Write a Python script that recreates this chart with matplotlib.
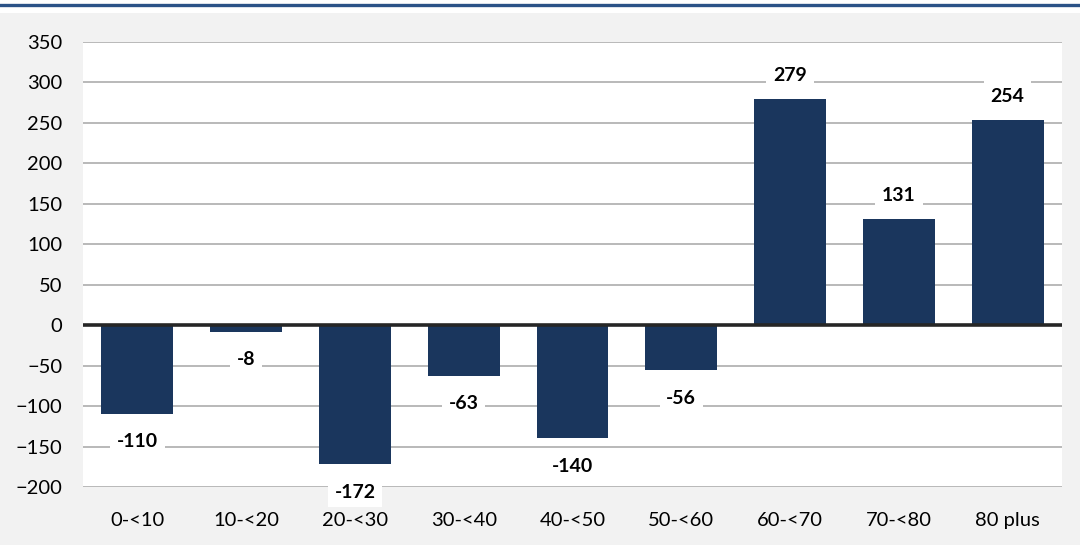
import matplotlib.pyplot as plt
import matplotlib.patches as mpatches
import numpy as np

categories = ["0-<10", "10-<20", "20-<30", "30-<40", "40-<50", "50-<60", "60-<70", "70-<80", "80 plus"]
values = [-110, -8, -172, -63, -140, -56, 279, 131, 254]
yticks = [-200, -150, -100, -50, 0, 50, 100, 150, 200, 250, 300, 350]

plt.rcParams["font.family"] = ["Lato", "DejaVu Sans"]

fig = plt.figure(figsize=(10.8, 5.45), dpi=100, facecolor="white")
# grey panel under the blue rule
fig.patches.append(mpatches.Rectangle((0, 0), 1, 1 - 13 / 545, transform=fig.transFigure,
                                      facecolor="#f2f2f2", edgecolor="none", zorder=-10))
fig.add_artist(plt.Line2D([0, 1], [1 - 4.5 / 545] * 2, transform=fig.transFigure,
                          color="#2b5287", linewidth=2.4))

ax = fig.add_axes([83 / 1080, 58 / 545, 979 / 1080, 445 / 545])
ax.set_facecolor("white")

x = np.arange(len(categories))
bars = ax.bar(x, values, width=0.66, color="#1a365d", zorder=3)

ax.set_xlim(-0.5, len(categories) - 0.5)
ax.set_ylim(-200, 350)
ax.set_yticks(yticks)
ax.set_xticks(x)
ax.set_xticklabels(categories)
ax.tick_params(axis="both", length=0, labelsize=14.5, colors="black")
ax.tick_params(axis="y", pad=15)
ax.tick_params(axis="x", pad=18)
for s in ax.spines.values():
    s.set_visible(False)
ax.grid(axis="y", color="#a6a6a6", linewidth=1.1, zorder=0)
ax.axhline(0, color="#262626", linewidth=2.6, zorder=4)

for xi, v in zip(x, values):
    off = 17 if v > 0 else -20
    ax.annotate(str(v), (xi, v), xytext=(0, off), textcoords="offset points",
                ha="center", va="center", fontsize=14, fontweight="bold",
                bbox=dict(boxstyle="square,pad=0.35", facecolor="white", edgecolor="none"),
                zorder=5)

fig.savefig("out.png", dpi=100, facecolor=fig.get_facecolor())
